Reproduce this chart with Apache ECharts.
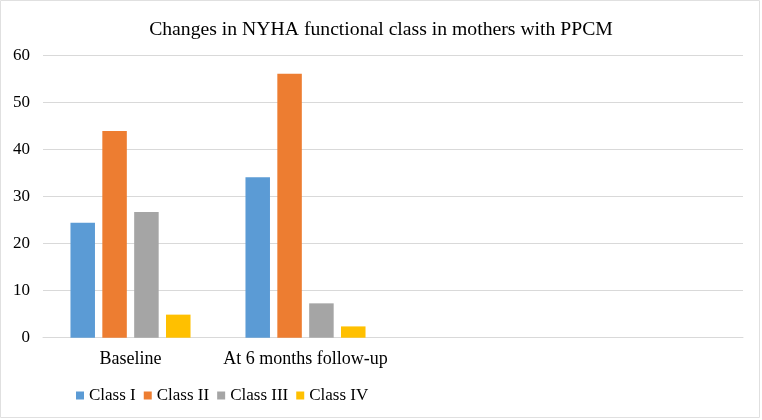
<!DOCTYPE html>
<html>
<head>
<meta charset="utf-8">
<script src="https://cdn.jsdelivr.net/npm/echarts@6/dist/echarts.min.js"></script>
<style>
html,body{margin:0;padding:0;background:#fff;}
#c{width:762px;height:420px;}
</style>
</head>
<body>
<div id="c"></div>
<script>
var categories = ['Baseline', 'At 6 months follow-up', '', ''];
var classI = [24.4, 34.1, null, null];
var classII = [43.9, 56.1, null, null];
var classIII = [26.7, 7.3, null, null];
var classIV = [4.9, 2.4, null, null];
var seriesNames = ['Class I', 'Class II', 'Class III', 'Class IV'];
var colors = ['#5B9BD5', '#ED7D31', '#A5A5A5', '#FFC000'];
var yTicks = [0, 10, 20, 30, 40, 50, 60];

var font = '"Liberation Serif", "Times New Roman", serif';
var chart = echarts.init(document.getElementById('c'), null, {renderer: 'canvas'});
var dataSets = [classI, classII, classIII, classIV];
var series = dataSets.map(function (d, i) {
  return {
    name: seriesNames[i],
    type: 'bar',
    data: d,
    barWidth: 24.5,
    barGap: '30%',
    itemStyle: {color: colors[i]},
    emphasis: {disabled: true}
  };
});
chart.setOption({
  animation: false,
  color: colors,
  graphic: [{
    type: 'rect',
    shape: {x: 0.5, y: 0.5, width: 759, height: 417},
    style: {fill: 'none', stroke: '#e0e0e0', lineWidth: 1},
    silent: true
  }],
  title: {
    text: 'Changes in NYHA functional class in mothers with PPCM',
    left: 'center',
    top: 15,
    textStyle: {fontFamily: font, fontSize: 19.7, fontWeight: 'normal', color: '#000'}
  },
  legend: {
    left: 71,
    top: 382,
    itemWidth: 8,
    itemHeight: 8,
    itemGap: 8,
    icon: 'rect',
    textStyle: {fontFamily: font, fontSize: 17, color: '#000'},
    data: seriesNames
  },
  grid: {left: 43, right: 19, top: 55.3, bottom: 82.3, containLabel: false},
  xAxis: {
    type: 'category',
    data: categories,
    axisLine: {lineStyle: {color: '#d9d9d9', width: 1}},
    axisTick: {show: false},
    axisLabel: {fontFamily: font, fontSize: 18, color: '#000', margin: 13, interval: 0}
  },
  yAxis: {
    type: 'value',
    min: yTicks[0],
    max: yTicks[yTicks.length - 1],
    interval: 10,
    axisLine: {show: false},
    axisTick: {show: false},
    splitLine: {lineStyle: {color: '#d9d9d9', width: 1}},
    axisLabel: {fontFamily: font, fontSize: 17, color: '#000', margin: 13}
  },
  series: series
});
</script>
</body>
</html>
